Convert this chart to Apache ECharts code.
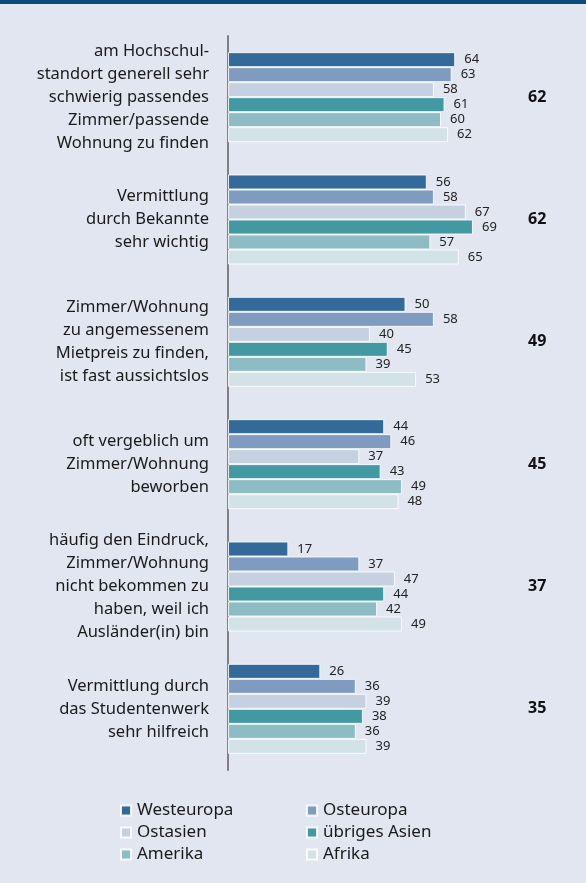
<!DOCTYPE html>
<html>
<head>
<meta charset="utf-8">
<script src="https://cdn.jsdelivr.net/npm/echarts@6/dist/echarts.min.js"></script>
<style>
  html, body { margin: 0; padding: 0; background: #e1e6f0; }
  #topband { height: 4px; background: #0d4a7f; }
  #chart { width: 586px; height: 879px; }
</style>
</head>
<body>
<div id="topband"></div>
<div id="chart"></div>
<script>
  // Kategorien (von oben nach unten)
  var categories = [
    'am Hochschul-\nstandort generell sehr\nschwierig passendes\nZimmer/passende\nWohnung zu finden',
    'Vermittlung\ndurch Bekannte\nsehr wichtig',
    'Zimmer/Wohnung\nzu angemessenem\nMietpreis zu finden,\nist fast aussichtslos',
    'oft vergeblich um\nZimmer/Wohnung\nbeworben',
    'häufig den Eindruck,\nZimmer/Wohnung\nnicht bekommen zu\nhaben, weil ich\nAusländer(in) bin',
    'Vermittlung durch\ndas Studentenwerk\nsehr hilfreich'
  ];
  var seriesNames = ['Westeuropa', 'Osteuropa', 'Ostasien', 'übriges Asien', 'Amerika', 'Afrika'];
  var westeuropa = [64, 56, 50, 44, 17, 26];
  var osteuropa = [63, 58, 58, 46, 37, 36];
  var ostasien = [58, 67, 40, 37, 47, 39];
  var uebrigesAsien = [61, 69, 45, 43, 44, 38];
  var amerika = [60, 57, 39, 49, 42, 36];
  var afrika = [62, 65, 53, 48, 49, 39];
  var insgesamt = [62, 62, 49, 45, 37, 35];

  var colors = ['#336a99', '#7f9bbf', '#c5d1e1', '#4399a2', '#8dbcc4', '#d2e2e6'];
  var values = [westeuropa, osteuropa, ostasien, uebrigesAsien, amerika, afrika];

  var chart = echarts.init(document.getElementById('chart'));
  var font = 'Noto Sans';

  var series = seriesNames.map(function (name, i) {
    return {
      name: name,
      type: 'bar',
      data: values[i],
      barWidth: 15,
      barGap: '0%',
      itemStyle: { color: colors[i], borderColor: 'rgba(255,255,255,0.85)', borderWidth: 1 },
      label: {
        show: true,
        position: 'right',
        distance: 9,
        fontFamily: font,
        fontSize: 13,
        color: '#222'
      }
    };
  });

  var legendText = { fontFamily: font, fontSize: 17, color: '#1a1a1a', padding: [0, 0, 0, 1] };

  chart.setOption({
    backgroundColor: '#e1e6f0',
    animation: false,
    grid: { left: 228, right: 74, top: 32, bottom: 113 },
    legend: [
      {
        data: ['Westeuropa', 'Ostasien', 'Amerika'],
        orient: 'vertical',
        left: 115, top: 793,
        icon: 'rect', itemWidth: 10, itemHeight: 10, itemGap: 5,
        textStyle: legendText
      },
      {
        data: ['Osteuropa', 'übriges Asien', 'Afrika'],
        orient: 'vertical',
        left: 301, top: 793,
        icon: 'rect', itemWidth: 10, itemHeight: 10, itemGap: 5,
        textStyle: legendText
      }
    ],
    xAxis: {
      type: 'value',
      min: 0,
      max: 80,
      show: false
    },
    yAxis: [
      {
        type: 'category',
        data: categories,
        inverse: true,
        axisLine: { show: true, lineStyle: { color: '#808080', width: 2 } },
        axisTick: { show: false },
        axisLabel: {
          margin: 19,
          fontFamily: font,
          fontSize: 16.5,
          lineHeight: 23,
          color: '#1a1a1a',
          align: 'right'
        }
      },
      {
        type: 'category',
        data: insgesamt,
        inverse: true,
        position: 'right',
        axisLine: { show: false },
        axisTick: { show: false },
        axisLabel: {
          margin: 16,
          fontFamily: font,
          fontSize: 16,
          fontWeight: 'bold',
          color: '#111'
        }
      }
    ],
    series: series
  });
</script>
</body>
</html>
